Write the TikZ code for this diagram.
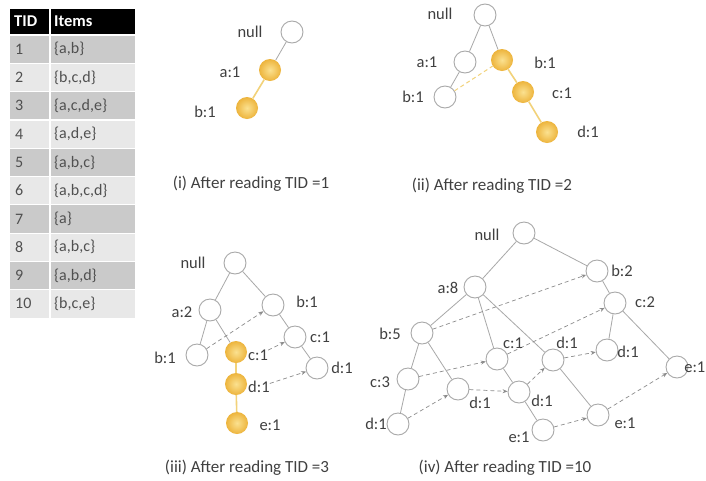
\documentclass[tikz,border=0pt]{standalone}
\usepackage{fontspec}
\setmainfont{Carlito}
\usetikzlibrary{arrows.meta}

\definecolor{edgegray}{HTML}{A8A8A8}
\definecolor{linkgray}{HTML}{8C8C8C}
\definecolor{txt}{HTML}{404040}
\definecolor{celltxt}{HTML}{505050}
\definecolor{rowdark}{HTML}{CACACA}
\definecolor{rowlight}{HTML}{E8E8E8}
\definecolor{goldin}{HTML}{FBE190}
\definecolor{goldout}{HTML}{EDB43C}
\definecolor{goldline}{HTML}{F2D27A}

\tikzset{
  plain/.style={circle, draw=edgegray, fill=white, line width=0.9pt,
    minimum size=22pt, inner sep=0pt},
  gold/.style={circle, inner sep=0pt, minimum size=22pt,
    shading=radial, inner color=goldin, outer color=goldout},
  lbl/.style={text=txt, font=\fontsize{16.5}{18}\selectfont, inner sep=0pt},
  captext/.style={text=txt, font=\fontsize{17}{19}\selectfont, inner sep=0pt},
  cell/.style={text=celltxt, font=\fontsize{16}{18}\selectfont, inner sep=0pt, anchor=west},
  headcell/.style={text=white, font=\bfseries\fontsize{16.5}{18}\selectfont, inner sep=0pt, anchor=west},
  tree/.style={draw=edgegray, line width=0.8pt},
  goldedge/.style={draw=goldline, line width=1.6pt},
  link/.style={draw=linkgray, dash pattern=on 4pt off 3pt, line width=0.7pt,
    -{Stealth[length=5pt,width=4pt]}},
  goldlink/.style={draw=goldline, dash pattern=on 4pt off 3pt, line width=1pt},
}

\begin{document}
\begin{tikzpicture}[x=1pt,y=-1pt]
\useasboundingbox[fill=white] (0,0) rectangle (706,480);

% ---------------- transaction table ----------------
\fill[black] (10,9) rectangle (135,34);
\foreach \k in {1,...,10}{
  \pgfmathsetmacro{\rowtop}{35+(\k-1)*28.3}
  \pgfmathsetmacro{\rowbot}{35+\k*28.3}
  \ifodd\k
    \fill[rowdark] (10,\rowtop) rectangle (135,\rowbot);
  \else
    \fill[rowlight] (10,\rowtop) rectangle (135,\rowbot);
  \fi
  \draw[white, line width=1.2pt] (10,\rowtop) -- (135,\rowtop);
}
\draw[white, line width=1.5pt] (50,9) -- (50,318);
\node[headcell] (hT) at (14,21.5) {TID};
\node[headcell] (hI) at (54,21.5) {Items};
\foreach \k/\items in {1/{\{a,b\}}, 2/{\{b,c,d\}}, 3/{\{a,c,d,e\}}, 4/{\{a,d,e\}},
    5/{\{a,b,c\}}, 6/{\{a,b,c,d\}}, 7/{\{a\}}, 8/{\{a,b,c\}}, 9/{\{a,b,d\}}, 10/{\{b,c,e\}}}{
  \pgfmathsetmacro{\rowmid}{35+(\k-0.5)*28.3}
  \node[cell] (tid\k) at (15,\rowmid) {\k};
  \node[cell] (its\k) at (54,\rowmid) {\items};
}

% ---------------- (i) ----------------
\node[plain] (Anull) at (292,32) {};
\node[gold]  (Aa)    at (270,70) {};
\node[gold]  (Ab)    at (247,108) {};
\draw[tree] (Anull) -- (Aa);
\draw[goldedge] (Aa) -- (Ab);
\node[lbl] (lAnull) at (250,32) {null};
\node[lbl] (lAa)    at (230,72) {a:1};
\node[lbl] (lAb)    at (205,112) {b:1};
\node[captext] (capA) at (251,184) {(i) After reading TID =1};

% ---------------- (ii) ----------------
\node[plain] (Bnull) at (485,15) {};
\node[plain] (Ba)    at (465,62) {};
\node[plain] (Bb)    at (445,97) {};
\node[gold]  (Bb2)   at (502,60) {};
\node[gold]  (Bc)    at (523,92) {};
\node[gold]  (Bd)    at (547,132) {};
\draw[tree] (Bnull) -- (Ba);
\draw[tree] (Bnull) -- (Bb2);
\draw[tree] (Ba) -- (Bb);
\draw[goldedge] (Bb2) -- (Bc);
\draw[goldedge] (Bc) -- (Bd);
\draw[goldlink] (Bb) -- (Bb2);
\node[lbl] (lBnull) at (440,14) {null};
\node[lbl] (lBa)    at (427,62) {a:1};
\node[lbl] (lBb)    at (413,97) {b:1};
\node[lbl] (lBb2)   at (545,63) {b:1};
\node[lbl] (lBc)    at (562,93) {c:1};
\node[lbl] (lBd)    at (588,132) {d:1};
\node[captext] (capB) at (492,186) {(ii) After reading TID =2};

% ---------------- (iii) ----------------
\node[plain] (Cnull) at (235,263) {};
\node[plain] (Ca)    at (210,310) {};
\node[plain] (Cb)    at (197,355) {};
\node[plain] (Cb2)   at (273,305) {};
\node[plain] (Cc2)   at (295,337) {};
\node[plain] (Cd2)   at (317,368) {};
\node[gold]  (Cc)    at (236,352) {};
\node[gold]  (Cd)    at (236,384) {};
\node[gold]  (Ce)    at (237,423) {};
\draw[tree] (Cnull) -- (Ca);
\draw[tree] (Cnull) -- (Cb2);
\draw[tree] (Ca) -- (Cb);
\draw[tree] (Ca) -- (Cc);
\draw[tree] (Cb2) -- (Cc2);
\draw[tree] (Cc2) -- (Cd2);
\draw[goldedge] (Cc) -- (Cd);
\draw[goldedge] (Cd) -- (Ce);
\node[lbl] (lCnull) at (193,263) {null};
\node[lbl] (lCa)    at (182,312) {a:2};
\node[lbl] (lCb)    at (165,358) {b:1};
\node[lbl] (lCb2)   at (307,302) {b:1};
\node[lbl] (lCc2)   at (320,337) {c:1};
\node[lbl] (lCd2)   at (342,368) {d:1};
\node[lbl,anchor=west] (lCc) at (248,355) {c:1};
\node[lbl,anchor=west] (lCd) at (248,387) {d:1};
\node[lbl] (lCe)    at (270,425) {e:1};
\draw[link] (Cb) -- (Cb2);
\draw[link] (lCc) -- (Cc2);
\draw[link] (lCd) -- (Cd2);
\node[captext] (capC) at (247,468) {(iii) After reading TID =3};

% ---------------- (iv) ----------------
\node[plain] (Dnull) at (524,233) {};
\node[plain] (Da)    at (475,287) {};
\node[plain] (Db2)   at (597,271) {};
\node[plain] (Dc2)   at (615,303) {};
\node[plain] (Db)    at (422,333) {};
\node[plain] (Dca)   at (497,359) {};
\node[plain] (Dda)   at (553,360) {};
\node[plain] (Ddc2)  at (607,350) {};
\node[plain] (Dec2)  at (677,367) {};
\node[plain] (Dc)    at (408,379) {};
\node[plain] (Ddb)   at (458,389) {};
\node[plain] (Ddca)  at (519,392) {};
\node[plain] (Ddc)   at (398,424) {};
\node[plain] (Deca)  at (543,430) {};
\node[plain] (Deda)  at (598,415) {};
% tree edges
\draw[tree] (Dnull) -- (Da);
\draw[tree] (Dnull) -- (Db2);
\draw[tree] (Da) -- (Db);
\draw[tree] (Da) -- (Dca);
\draw[tree] (Da) -- (Dda);
\draw[tree] (Db) -- (Dc);
\draw[tree] (Db) -- (Ddb);
\draw[tree] (Dc) -- (Ddc);
\draw[tree] (Dca) -- (Ddca);
\draw[tree] (Ddca) -- (Deca);
\draw[tree] (Dda) -- (Deda);
\draw[tree] (Db2) -- (Dc2);
\draw[tree] (Dc2) -- (Ddc2);
\draw[tree] (Dc2) -- (Dec2);
% node links
\draw[link] (Db) -- (Db2);
\draw[link] (Dc) -- (Dca);
\draw[link] (Dca) -- (Dc2);
\draw[link] (Ddc) -- (Ddb);
\draw[link] (Ddb) -- (Ddca);
\draw[link] (Ddca) -- (Dda);
\draw[link] (Dda) -- (Ddc2);
\draw[link] (Deca) -- (Deda);
\draw[link] (Deda) -- (Dec2);
% labels
\node[lbl] (lDnull) at (487,235) {null};
\node[lbl] (lDa)    at (448,288) {a:8};
\node[lbl] (lDb2)   at (622,271) {b:2};
\node[lbl] (lDc2)   at (645,302) {c:2};
\node[lbl] (lDb)    at (390,334) {b:5};
\node[lbl] (lDca)   at (513,343) {c:1};
\node[lbl] (lDda)   at (567,343) {d:1};
\node[lbl] (lDdc2)  at (628,352) {d:1};
\node[lbl,anchor=east] (lDec2) at (705.5,367) {e:1};
\node[lbl] (lDc)    at (380,382) {c:3};
\node[lbl] (lDdb)   at (480,403) {d:1};
\node[lbl] (lDdca)  at (542,401) {d:1};
\node[lbl] (lDdc)   at (376,424) {d:1};
\node[lbl] (lDeca)  at (519,437) {e:1};
\node[lbl] (lDeda)  at (625,423) {e:1};
\node[captext] (capD) at (505,468) {(iv) After reading TID =10};
\end{tikzpicture}
\end{document}
